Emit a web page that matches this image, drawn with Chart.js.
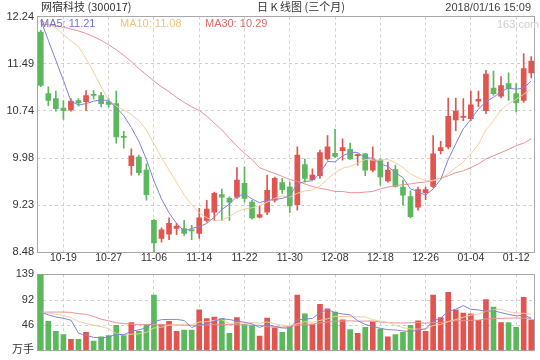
<!DOCTYPE html>
<html>
<head>
<meta charset="utf-8">
<script src="https://cdn.jsdelivr.net/npm/chart.js@4.4.1/dist/chart.umd.min.js"></script>
<style>
  body { margin: 0; background: #fff; }
  #wrap { position: relative; width: 540px; height: 360px; overflow: hidden; font-family: "Liberation Sans", Arial, sans-serif; }
  .t { position: absolute; white-space: nowrap; font-size: 11px; line-height: 12px; }
  canvas { position: absolute; left: 0; }
</style>
</head>
<body>
<div id="wrap">
  <canvas id="kline" width="540" height="266" style="top:0"></canvas>
  <canvas id="vol" width="540" height="98" style="top:262px"></canvas>
  <div class="t" style="left:41px;top:0px;color:#333;font-family:'Noto Sans CJK SC',sans-serif;line-height:13px">网宿科技 (300017)</div>
  <div class="t" style="left:257px;top:0px;color:#333;font-family:'Noto Sans CJK SC',sans-serif;line-height:13px">日 K 线图 (三个月)</div>
  <div class="t" style="right:9px;top:1px;color:#444">2018/01/16 15:09</div>
  <div class="t" style="left:40px;top:17px;color:#7272d2">MA5: 11.21</div>
  <div class="t" style="left:120px;top:17px;color:#efc27e">MA10: 11.08</div>
  <div class="t" style="left:205px;top:17px;color:#e06868">MA30: 10.29</div>
  <div class="t" style="left:497px;top:18px;color:#cfcfcf">163.com</div>
</div>
<script>
// trading days 2017-10-16 .. 2018-01-16
const dates = ['10-16','10-17','10-18','10-19','10-20','10-23','10-24','10-25','10-26','10-27',
  '10-30','10-31','11-01','11-02','11-03','11-06','11-07','11-08','11-09','11-10',
  '11-13','11-14','11-15','11-16','11-17','11-20','11-21','11-22','11-23','11-24',
  '11-27','11-28','11-29','11-30','12-01','12-04','12-05','12-06','12-07','12-08',
  '12-11','12-12','12-13','12-14','12-15','12-18','12-19','12-20','12-21','12-22',
  '12-25','12-26','12-27','12-28','12-29','01-02','01-03','01-04','01-05','01-08',
  '01-09','01-10','01-11','01-12','01-15','01-16'];
const dateTicks = ['10-19','10-27','11-06','11-14','11-22','11-30','12-08','12-18','12-26','01-04','01-12'];

const open = [11.99,11.01,10.93,10.78,10.75,10.90,10.88,11.00,10.98,10.88,
  10.85,10.33,9.86,10.00,9.79,8.99,8.70,8.77,8.86,8.86,
  8.84,8.78,8.99,9.12,9.40,9.34,9.36,9.58,9.28,9.04,
  9.12,9.31,9.59,9.52,9.24,9.88,9.64,9.70,9.97,10.06,
  10.10,10.12,10.02,10.05,9.79,9.95,9.62,9.80,9.52,9.37,
  9.20,9.43,9.53,10.10,10.16,10.59,10.63,10.61,10.89,10.74,
  11.10,10.97,11.17,11.01,10.90,11.34];
const high = [12.02,11.12,11.05,10.90,10.93,10.93,11.06,11.06,11.03,10.93,
  11.05,10.41,10.13,10.03,9.89,9.00,8.87,9.03,8.94,8.99,
  8.91,9.18,9.31,9.44,9.49,9.37,9.83,9.84,9.31,9.22,
  9.71,9.68,9.66,9.60,10.16,9.97,9.81,10.11,10.34,10.44,
  10.29,10.22,10.05,10.06,10.16,9.97,9.92,9.87,9.63,9.46,
  9.52,9.52,10.34,10.25,10.94,10.94,10.93,11.05,11.05,11.38,
  11.37,11.28,11.34,11.17,11.65,11.60];
const low = [11.12,10.82,10.73,10.60,10.73,10.81,10.74,10.92,10.80,10.80,
  10.22,10.14,9.71,9.71,9.31,8.49,8.64,8.68,8.76,8.75,
  8.68,8.70,8.96,8.99,8.99,8.99,9.34,9.28,9.01,9.03,
  9.08,9.28,9.42,9.11,9.15,9.60,9.63,9.66,9.95,9.99,
  9.95,9.96,9.87,9.70,9.76,9.55,9.60,9.52,9.23,9.03,
  9.15,9.32,9.51,10.05,10.13,10.42,10.58,10.58,10.80,10.69,
  10.98,10.94,10.90,10.72,10.87,11.26];
const close = [11.14,10.90,10.77,10.74,10.89,10.86,10.98,10.98,10.85,10.84,
  10.32,10.31,10.02,9.75,9.40,8.63,8.84,8.94,8.90,8.78,
  8.82,9.03,9.17,9.42,9.36,9.28,9.63,9.34,9.03,9.08,
  9.47,9.66,9.48,9.22,10.03,9.66,9.71,10.07,10.16,10.01,
  10.15,9.97,10.04,9.79,9.95,9.68,9.79,9.53,9.39,9.05,
  9.48,9.48,10.05,10.15,10.65,10.73,10.65,10.83,10.92,11.32,
  11.01,11.14,11.09,10.86,11.41,11.53];

const ma5 = [12.18,11.86,11.54,11.22,10.89,10.83,10.85,10.89,10.91,10.90,
  10.79,10.66,10.47,10.25,9.96,9.62,9.33,9.11,8.94,8.82,
  8.86,8.89,8.94,9.04,9.16,9.25,9.37,9.41,9.33,9.27,
  9.31,9.32,9.34,9.38,9.57,9.61,9.62,9.74,9.93,9.92,
  10.02,10.07,10.07,9.99,9.98,9.89,9.85,9.75,9.67,9.49,
  9.45,9.39,9.49,9.64,9.96,10.21,10.45,10.60,10.76,10.89,
  10.95,11.04,11.10,11.08,11.10,11.21];
const ma10 = [12.17,12.12,12.06,11.95,11.85,11.76,11.57,11.35,11.12,10.90,
  10.81,10.75,10.68,10.58,10.43,10.21,9.99,9.79,9.60,9.39,
  9.24,9.11,9.03,8.99,8.99,9.05,9.13,9.17,9.19,9.22,
  9.28,9.34,9.38,9.36,9.42,9.46,9.47,9.54,9.65,9.75,
  9.82,9.85,9.90,9.96,9.95,9.95,9.96,9.91,9.83,9.73,
  9.67,9.62,9.62,9.66,9.73,9.83,9.92,10.05,10.20,10.43,
  10.58,10.75,10.85,10.92,11.00,11.08];
const ma30 = [12.12,12.11,12.09,12.07,12.04,12.01,11.97,11.92,11.86,11.79,
  11.71,11.62,11.52,11.41,11.31,11.21,11.12,11.04,10.95,10.87,
  10.80,10.74,10.65,10.54,10.43,10.30,10.17,10.06,9.96,9.83,
  9.78,9.74,9.69,9.64,9.61,9.57,9.53,9.50,9.48,9.45,
  9.45,9.43,9.43,9.44,9.45,9.49,9.52,9.54,9.56,9.57,
  9.59,9.60,9.63,9.66,9.70,9.75,9.78,9.83,9.89,9.97,
  10.02,10.07,10.12,10.18,10.22,10.29];

// volume, 万手
const volume = [139,53,35,29,20,20,33,17,25,27,
  46,28,51,35,47,101,47,53,35,37,
  37,74,58,61,58,31,60,47,46,26,
  59,41,33,44,101,67,47,84,76,70,
  56,38,31,42,52,39,25,29,33,46,
  54,35,101,60,106,74,68,67,55,93,
  79,51,51,42,97,56];
const volMa5 = [69.5,65,61,58.5,55.2,31.4,27.4,23.8,23.0,24.4,
  29.6,28.6,35.4,37.4,41.4,52.4,56.2,56.6,56.6,54.6,
  41.8,47.2,48.2,53.4,57.6,56.4,53.6,51.4,48.4,42.0,
  47.6,43.8,41.0,40.6,55.6,57.2,58.4,68.6,75.0,68.8,
  66.6,64.8,54.2,47.4,43.8,40.4,37.8,37.4,35.6,34.4,
  37.4,39.4,53.8,59.2,71.2,75.2,81.8,75.0,74.0,71.4,
  72.4,69.0,65.8,63.2,64.0,59.4];
const volMa10 = [69.5,68,66,64,60,53,49,46,43.5,39.8,
  30.5,28.0,29.6,30.2,32.9,41.0,42.4,46.0,47.0,48.0,
  47.1,51.7,52.4,55.0,56.1,49.1,50.4,49.8,50.9,49.8,
  52.0,48.7,46.2,44.5,48.8,52.4,51.1,54.8,57.8,62.2,
  61.9,61.6,61.4,61.2,56.3,53.5,51.3,45.8,41.5,39.1,
  38.9,38.6,45.6,47.4,52.8,56.3,60.6,64.4,66.6,71.3,
  73.8,75.4,70.4,68.6,67.7,65.9];
const volMa30 = [69.5,70,70,70,69.5,67,66,62,57,54,
  50.5,49,48,47,47,47,46.5,46.5,46.5,46,
  46,46,46.5,47,47,47,47,46.5,46,45.9,
  43.2,42.8,42.7,43.2,45.9,47.5,48.0,50.2,51.9,53.3,
  53.7,54.0,53.3,53.6,53.7,51.7,50.9,50.1,50.1,50.4,
  50.9,49.6,51.1,51.0,52.6,54.1,54.3,55.0,55.3,57.5,
  58.2,58.5,59.1,59.1,58.9,58.6];

const priceTicks = [8.48, 9.23, 9.98, 10.74, 11.49, 12.24];
const volTicks = [0, 46, 92, 139];
const volTickLabels = ['万手', '46', '92', '139'];

const RED = '#e2544f';
const GREEN = '#5cb85c';
const C_MA5 = '#8282de';
const C_MA10 = '#f3cf9c';
const C_MA30 = '#ea9196';

const candleColors = close.map((c, i) => c >= open[i] ? RED : GREEN);

// grey box around each plot
const frame = {
  id: 'frame',
  beforeDatasetsDraw(chart) {
    const a = chart.chartArea;
    const ctx = chart.ctx;
    ctx.save();
    ctx.strokeStyle = '#a8a8a8';
    ctx.lineWidth = 1;
    ctx.strokeRect(Math.floor(a.left) + 0.5, Math.floor(a.top) + 0.5,
      Math.round(a.right - a.left) - 1, Math.round(a.bottom - a.top));
    ctx.restore();
  }
};

const tickFont = { family: "'Liberation Sans', 'Noto Sans CJK SC', sans-serif", size: 11 };

const maLine = (label, data, color) => ({
  type: 'line', label: label, data: data, borderColor: color, borderWidth: 1,
  pointRadius: 0, tension: 0, fill: false, order: 0
});

const xScale = (showLabels, height) => ({
  offset: true,
  grid: { offset: false, color: '#d0d0d0', drawTicks: false },
  border: { display: false, dash: [3, 3] },
  ticks: {
    display: showLabels, autoSkip: false, maxRotation: 0, padding: 0,
    color: '#333', font: { family: tickFont.family, size: 10.5 },
    callback: function(v) {
      const l = this.getLabelForValue(v);
      return dateTicks.includes(l) ? l : null;
    }
  },
  afterFit: s => { s.height = height; }
});

new Chart(document.getElementById('kline'), {
  type: 'bar',
  data: {
    labels: dates,
    datasets: [
      maLine('MA5', ma5, C_MA5),
      maLine('MA10', ma10, C_MA10),
      maLine('MA30', ma30, C_MA30),
      {
        label: 'wick',
        data: dates.map((d, i) => [low[i], high[i]]),
        backgroundColor: candleColors,
        barThickness: 1, grouped: false, order: 2
      },
      {
        label: 'body',
        data: dates.map((d, i) => [open[i], close[i]]),
        backgroundColor: candleColors,
        barThickness: 5, minBarLength: 1, grouped: false, order: 1
      }
    ]
  },
  options: {
    responsive: false,
    animation: false,
    layout: { padding: { top: 16.5, right: 5, left: 0, bottom: 0 } },
    plugins: { legend: { display: false }, tooltip: { enabled: false } },
    scales: {
      x: xScale(true, 13.7),
      y: {
        min: 8.48, max: 12.24,
        grid: { color: '#d0d0d0', drawTicks: false },
        border: { display: false, dash: [3, 3] },
        afterBuildTicks: s => { s.ticks = priceTicks.map(v => ({ value: v })); },
        afterFit: s => { s.width = 37; },
        ticks: { color: '#333', font: tickFont, padding: 3, callback: v => v.toFixed(2) }
      }
    }
  },
  plugins: [frame]
});

new Chart(document.getElementById('vol'), {
  type: 'bar',
  data: {
    labels: dates,
    datasets: [
      maLine('MA5', volMa5, C_MA5),
      maLine('MA10', volMa10, C_MA10),
      maLine('MA30', volMa30, C_MA30),
      {
        label: '成交量',
        data: volume,
        backgroundColor: candleColors,
        barThickness: 5, order: 1
      }
    ]
  },
  options: {
    responsive: false,
    animation: false,
    layout: { padding: { top: 12.3, right: 5, left: 0, bottom: 9.3 } },
    plugins: { legend: { display: false }, tooltip: { enabled: false } },
    scales: {
      x: xScale(false, 0),
      y: {
        min: 0, max: 139,
        grid: { color: '#d0d0d0', drawTicks: false },
        border: { display: false, dash: [3, 3] },
        afterBuildTicks: s => { s.ticks = volTicks.map(v => ({ value: v })); },
        afterFit: s => { s.width = 37; },
        ticks: { color: '#333', font: tickFont, padding: 3,
          callback: (v, i) => volTickLabels[i] }
      }
    }
  },
  plugins: [frame]
});
</script>
</body>
</html>
